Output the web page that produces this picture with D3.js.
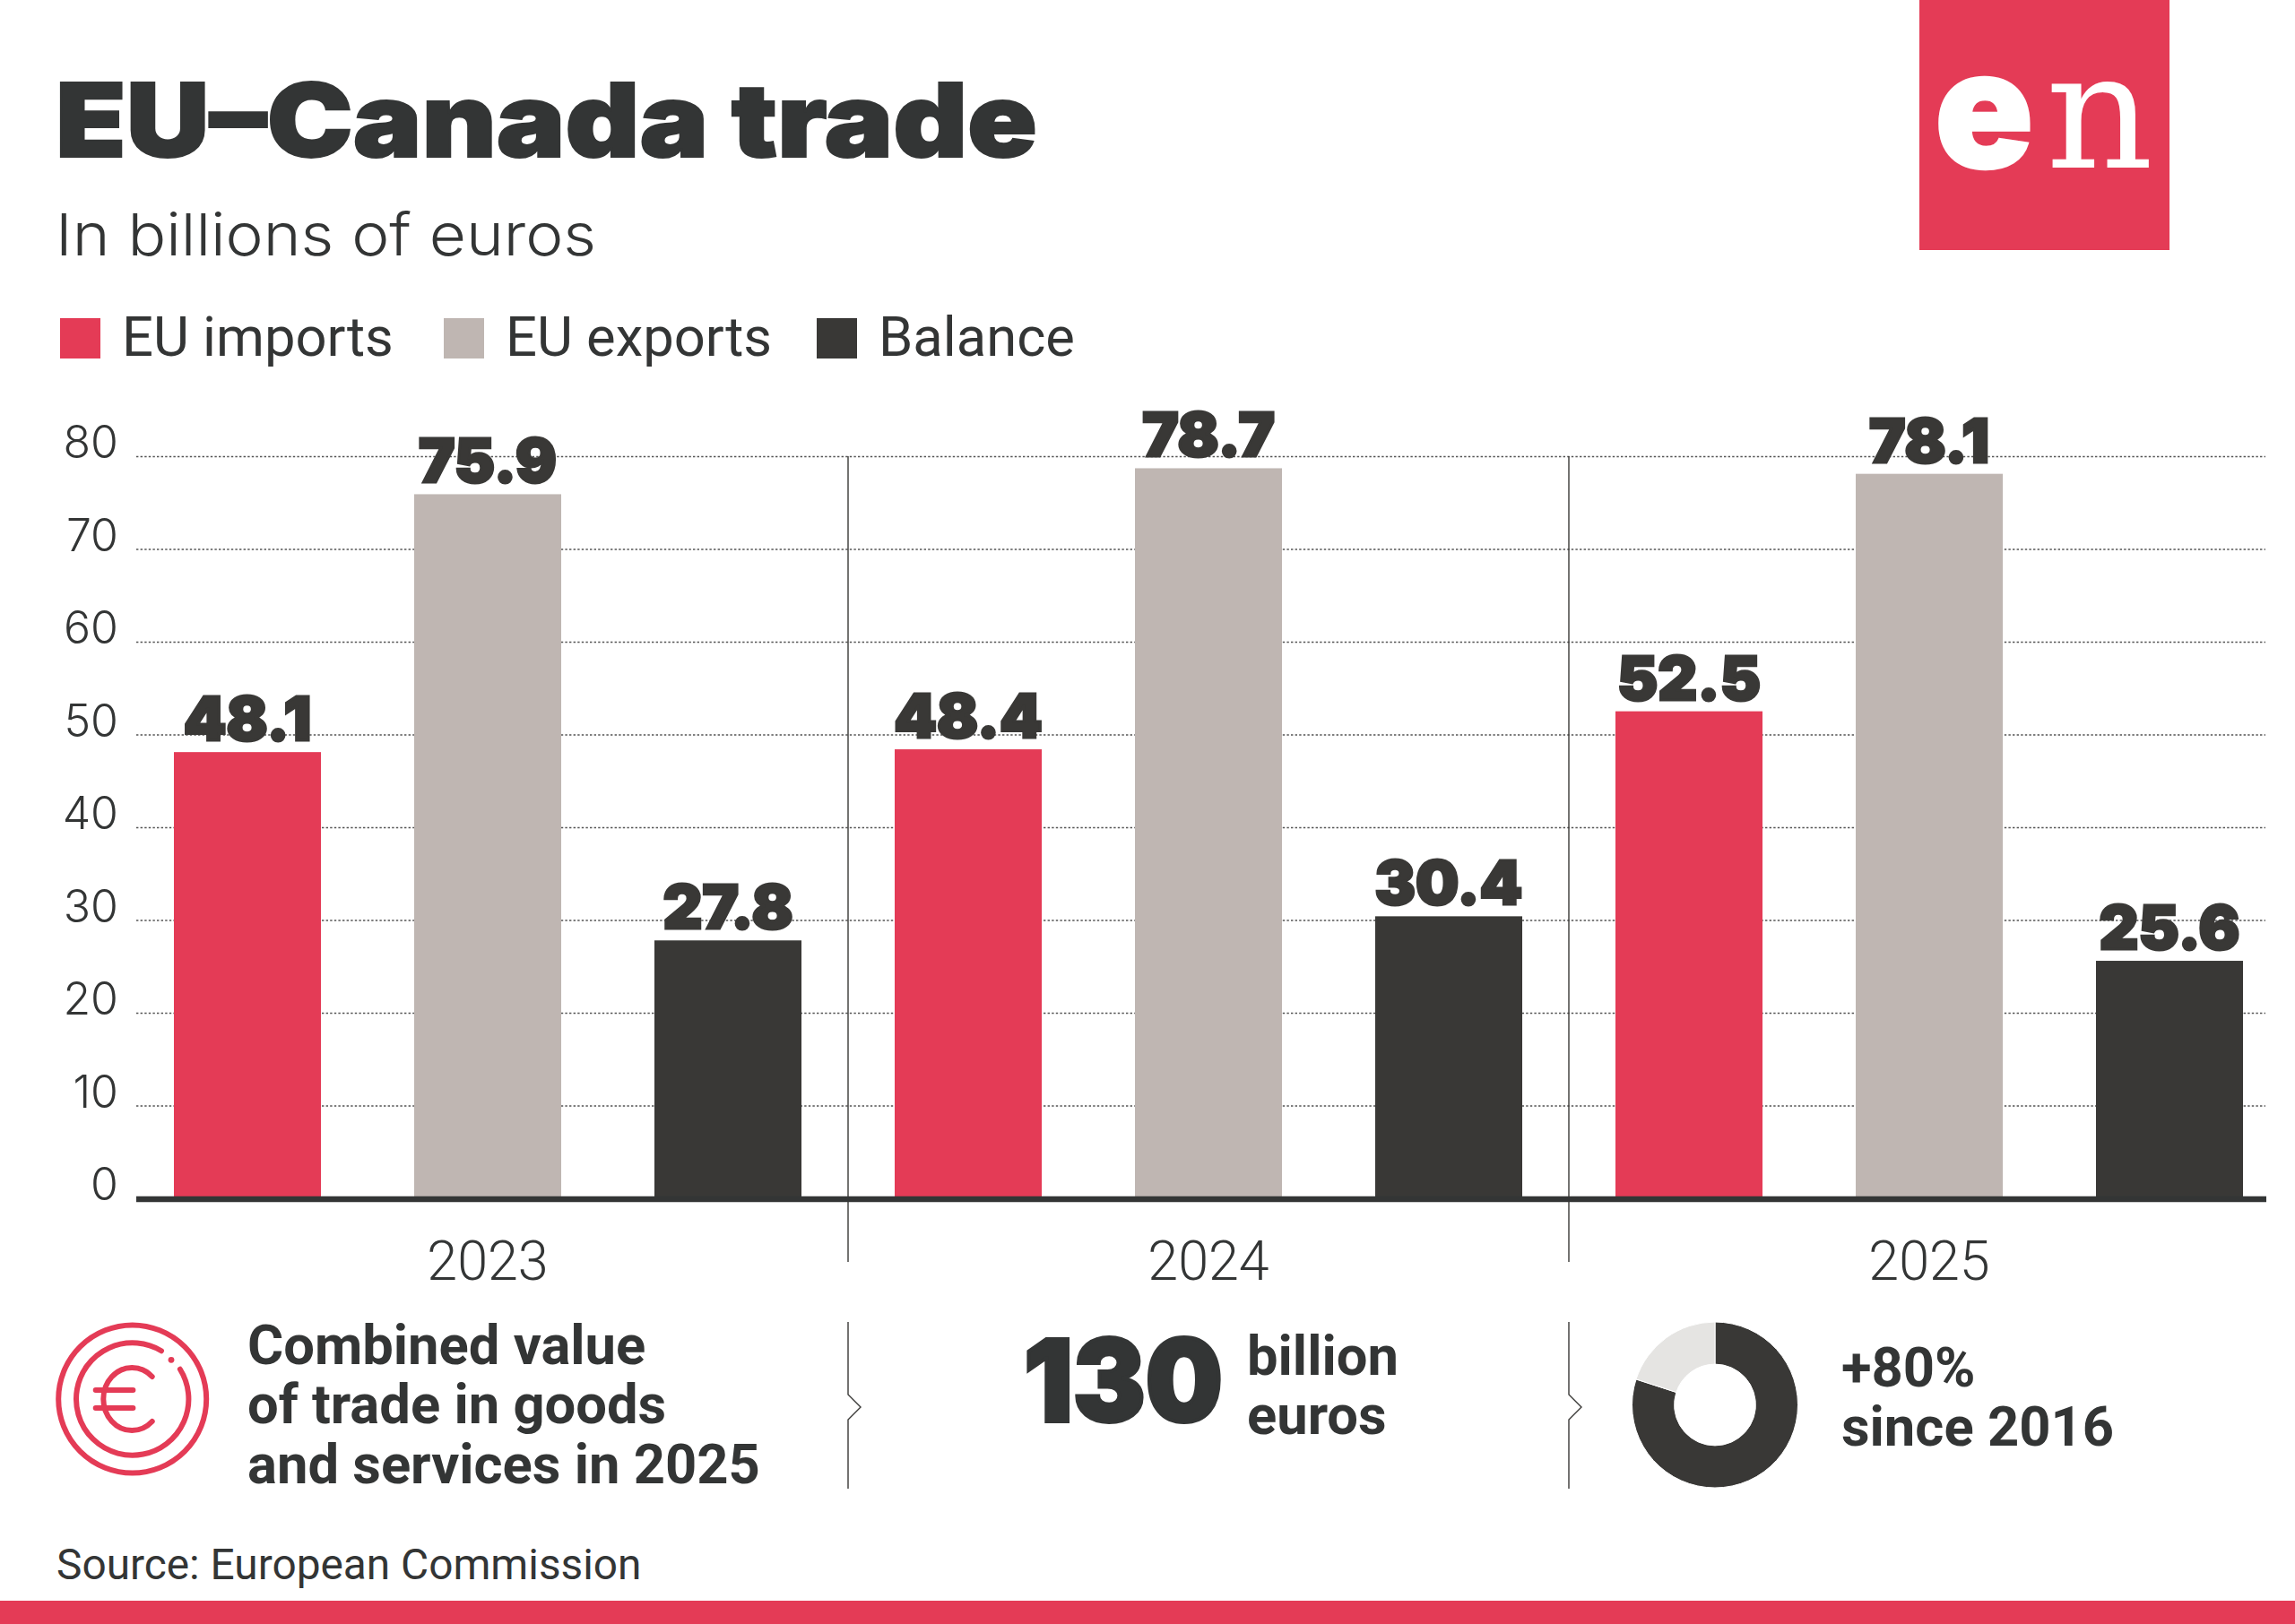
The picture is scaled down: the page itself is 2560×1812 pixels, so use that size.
<!DOCTYPE html>
<html lang="en">
<head>
    <meta charset="UTF-8">
    <title>EU–Canada trade</title>
    <script src="https://d3js.org/d3.v7.min.js"></script>
    <style>
        html, body {
            margin: 0;
            padding: 0;
            background: #fff;
        }
        svg {
            display: block;
        }
        .heavy {
            font-family: Inter, sans-serif;
            font-weight: 900;
        }
        .light {
            font-family: Inter, sans-serif;
            font-weight: 300;
        }
        .rob {
            font-family: Roboto, sans-serif;
        }
        .grid .domain {
            display: none;
        }
        .grid line {
            stroke: #555;
            stroke-width: 1.6;
            stroke-dasharray: 2.4 2.2;
        }
    </style>
</head>
<body>
    <div id="chart"></div>
    <script>
        // Data
        const years = ["2023", "2024", "2025"];
        const seriesNames = ["EU imports", "EU exports", "Balance"];
        const euImports = [48.1, 48.4, 52.5];
        const euExports = [75.9, 78.7, 78.1];
        const balance = [27.8, 30.4, 25.6];
        const yTicks = [0, 10, 20, 30, 40, 50, 60, 70, 80];
        const donutValues = [80, 20];
        const seriesColors = ["#e43b56", "#bfb6b2", "#393836"];

        const dark = "#333535";
        const red = "#e43b56";
        const width = 2560;
        const height = 1812;

        const svg = d3.select("#chart")
            .append("svg")
            .attr("width", width)
            .attr("height", height);

        // Scales
        const xYear = d3.scaleBand().domain(years).range([142, 2554]);
        const xSeries = d3.scaleBand().domain(seriesNames).range([0, xYear.bandwidth()])
            .paddingInner(0.388).paddingOuter(0.194);
        const y = d3.scaleLinear().domain([0, 80]).range([1337, 509]);
        const color = d3.scaleOrdinal().domain(seriesNames).range(seriesColors);

        // Title block
        svg.append("text").attr("class", "heavy")
            .attr("x", 62).attr("y", 175)
            .attr("font-size", 114).attr("fill", dark)
            .attr("stroke", dark).attr("stroke-width", 2)
            .attr("textLength", 1095).attr("lengthAdjust", "spacingAndGlyphs")
            .text("EU–Canada trade");

        svg.append("text").attr("class", "light")
            .attr("x", 62).attr("y", 285)
            .attr("font-size", 65).attr("fill", dark)
            .attr("textLength", 603).attr("lengthAdjust", "spacingAndGlyphs")
            .text("In billions of euros");

        // Logo
        svg.append("rect").attr("x", 2141).attr("y", 0).attr("width", 279).attr("height", 279).attr("fill", red);
        svg.append("text").attr("x", 2158).attr("y", 187).attr("fill", "#fff")
            .attr("stroke", "#fff").attr("stroke-width", 2.5)
            .attr("font-family", "Inter, sans-serif").attr("font-weight", 900).attr("font-size", 182)
            .text("e");
        svg.append("text").attr("x", 2282).attr("y", 187).attr("fill", "#fff")
            .attr("font-family", "'DejaVu Serif', serif").attr("font-size", 180)
            .attr("textLength", 120).attr("lengthAdjust", "spacingAndGlyphs")
            .text("n");

        // Legend
        const legendX = [67, 495, 911];
        const legend = svg.selectAll(".legend")
            .data(seriesNames)
            .enter().append("g")
            .attr("class", "legend")
            .attr("transform", (d, i) => `translate(${legendX[i]},355)`);

        legend.append("rect")
            .attr("width", 45)
            .attr("height", 45)
            .attr("fill", d => color(d));

        legend.append("text")
            .attr("class", "rob")
            .attr("x", 69)
            .attr("y", 41.5)
            .attr("font-size", 61.5)
            .attr("fill", dark)
            .text(d => d);

        // Grid and y labels
        const yAxis = svg.append("g")
            .attr("class", "grid")
            .attr("transform", "translate(152,0)")
            .call(d3.axisLeft(y).tickValues(yTicks).tickSize(-2375).tickPadding(20));

        yAxis.selectAll("text")
            .attr("class", "light")
            .attr("font-size", 50)
            .attr("font-weight", 200)
            .attr("fill", dark)
            .attr("dy", 1.5);
        yAxis.selectAll(".tick").filter(d => d === 0).select("line").remove();

        // Panel dividers
        svg.selectAll(".divider")
            .data(years.slice(1))
            .enter().append("line")
            .attr("x1", d => xYear(d)).attr("x2", d => xYear(d))
            .attr("y1", y(80)).attr("y2", 1408)
            .attr("stroke", "#393836").attr("stroke-width", 1.4);

        // Bars
        const rows = years.map((year, i) => ({
            year: year,
            values: [euImports[i], euExports[i], balance[i]]
        }));

        const group = svg.selectAll(".year")
            .data(rows)
            .enter().append("g")
            .attr("class", "year")
            .attr("transform", d => `translate(${xYear(d.year)},0)`);

        const cells = group.selectAll(".cell")
            .data(d => d.values.map((v, i) => ({ name: seriesNames[i], value: v })))
            .enter().append("g")
            .attr("class", "cell");

        cells.append("rect")
            .attr("x", d => xSeries(d.name))
            .attr("y", d => y(d.value))
            .attr("width", xSeries.bandwidth())
            .attr("height", d => y(0) - y(d.value))
            .attr("fill", d => color(d.name));

        cells.append("text")
            .attr("class", "heavy")
            .attr("x", d => xSeries(d.name) + xSeries.bandwidth() / 2)
            .attr("y", d => y(d.value) - 13)
            .attr("text-anchor", "middle")
            .attr("font-size", 68)
            .attr("fill", "#393836")
            .attr("stroke", "#393836")
            .attr("stroke-width", 3)
            .text(d => d.value.toFixed(1));

        // Baseline
        svg.append("line")
            .attr("x1", 152).attr("x2", 2528)
            .attr("y1", 1338).attr("y2", 1338)
            .attr("stroke", dark).attr("stroke-width", 6.5);

        // Year labels
        svg.selectAll(".yearLabel")
            .data(years)
            .enter().append("text")
            .attr("class", "rob")
            .attr("x", d => xYear(d) + xYear.bandwidth() / 2)
            .attr("y", 1428)
            .attr("text-anchor", "middle")
            .attr("font-size", 61)
            .attr("font-weight", 300)
            .attr("fill", dark)
            .text(d => d);

        // Bottom strip dividers with the small notch
        const notch = d3.line();
        svg.selectAll(".notch")
            .data(years.slice(1))
            .enter().append("path")
            .attr("d", d => {
                const x = xYear(d);
                return notch([[x, 1475], [x, 1556], [x + 14, 1570], [x, 1584], [x, 1661]]);
            })
            .attr("fill", "none")
            .attr("stroke", "#393836")
            .attr("stroke-width", 1.4);

        // Euro icon
        const icon = svg.append("g")
            .attr("transform", "translate(147.7,1561)")
            .attr("fill", "none")
            .attr("stroke", red)
            .attr("stroke-width", 6)
            .attr("stroke-linecap", "round");

        icon.append("circle").attr("r", 82.5);
        const innerRing = d3.path();
        innerRing.arc(0, 0, 62.7, -32 * Math.PI / 180, 301 * Math.PI / 180);
        icon.append("path").attr("d", innerRing.toString());
        icon.append("path").attr("d", "M22,-25 A32,35 0 1 0 22,25");
        icon.append("line").attr("x1", -41).attr("x2", 0.7).attr("y1", -10).attr("y2", -10);
        icon.append("line").attr("x1", -41).attr("x2", 0.7).attr("y1", 10).attr("y2", 10);
        icon.append("circle").attr("cx", 43.3).attr("cy", -43.7).attr("r", 3.4)
            .attr("fill", red).attr("stroke", "none");

        // Bottom strip text
        const boldLines = [
            { t: "Combined value", x: 276, y: 1522 },
            { t: "of trade in goods", x: 276, y: 1588 },
            { t: "and services in 2025", x: 276, y: 1655 },
            { t: "billion", x: 1391, y: 1534 },
            { t: "euros", x: 1391, y: 1600 },
            { t: "+80%", x: 2054, y: 1547 },
            { t: "since 2016", x: 2054, y: 1613 }
        ];

        svg.selectAll(".bold")
            .data(boldLines)
            .enter().append("text")
            .attr("class", "rob")
            .attr("x", d => d.x)
            .attr("y", d => d.y)
            .attr("font-size", 61.5)
            .attr("font-weight", 700)
            .attr("fill", dark)
            .text(d => d.t);

        svg.append("text").attr("class", "heavy")
            .attr("x", 1142).attr("y", 1586)
            .attr("font-size", 127).attr("fill", dark)
            .attr("stroke", dark).attr("stroke-width", 4)
            .attr("textLength", 222).attr("lengthAdjust", "spacingAndGlyphs")
            .text("130");

        // Donut
        const pie = d3.pie().sort(null);
        const arc = d3.arc().innerRadius(45.4).outerRadius(92.5);
        svg.append("g")
            .attr("transform", "translate(1913,1567.5)")
            .selectAll("path")
            .data(pie(donutValues))
            .enter().append("path")
            .attr("d", arc)
            .attr("fill", (d, i) => ["#393836", "#e5e4e2"][i])
            .attr("stroke", "#fff")
            .attr("stroke-width", 1);

        // Source and bottom bar
        svg.append("text")
            .attr("class", "rob")
            .attr("x", 63).attr("y", 1761.5)
            .attr("font-size", 47.8)
            .attr("fill", dark)
            .text("Source: European Commission");

        svg.append("rect")
            .attr("x", 0).attr("y", 1786)
            .attr("width", width).attr("height", 26)
            .attr("fill", red);
    </script>
</body>
</html>
